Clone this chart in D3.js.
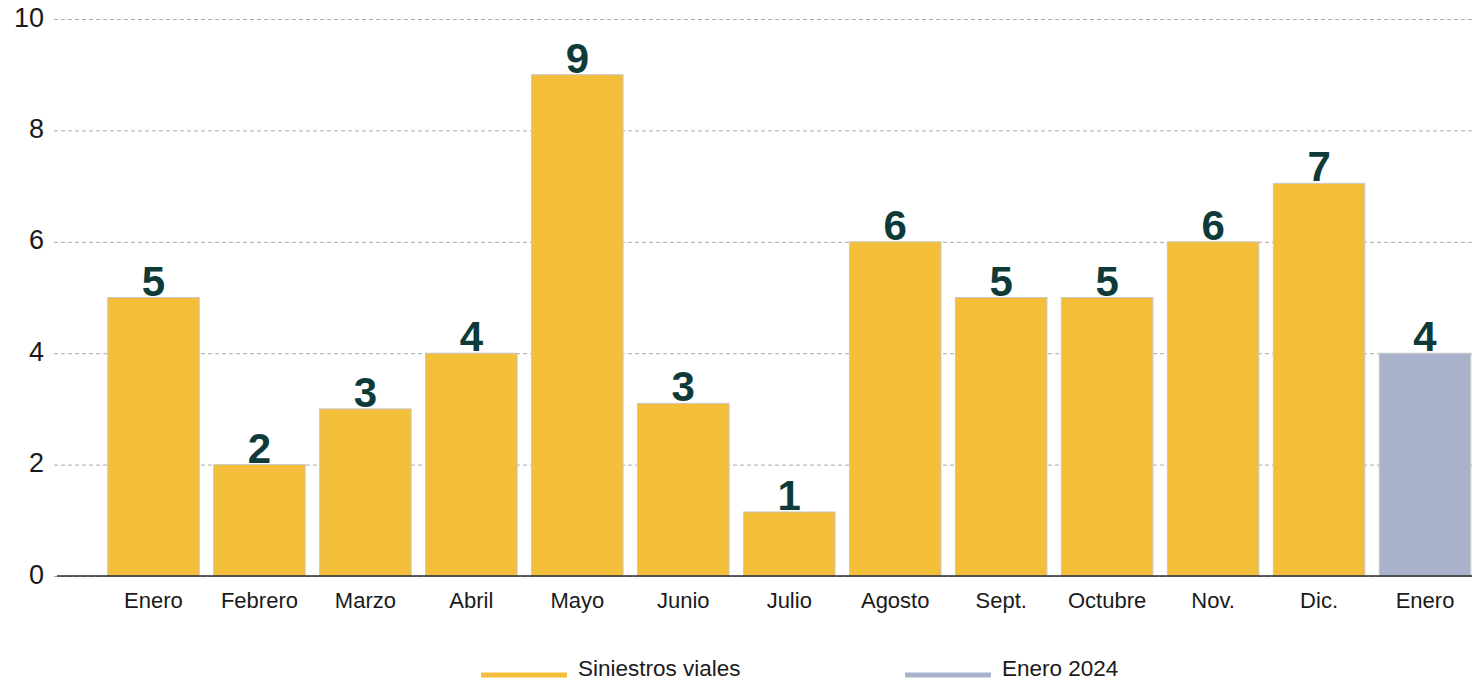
<!DOCTYPE html>
<html><head><meta charset="utf-8">
<script src="https://cdn.jsdelivr.net/npm/d3@7"></script>
<style>
html,body{margin:0;padding:0;background:#fff;}
svg{display:block;font-family:"Liberation Sans",Arial,sans-serif;}
</style></head>
<body>
<svg id="chart" width="1472" height="681"></svg>
<script>
const categories = ["Enero","Febrero","Marzo","Abril","Mayo","Junio","Julio","Agosto","Sept.","Octubre","Nov.","Dic.","Enero"];
const values = [5, 2, 3, 4, 9, 3.1, 1.15, 6, 5, 5, 6, 7.05, 4];
const labels = ["5","2","3","4","9","3","1","6","5","5","6","7","4"];
const series = ["Siniestros viales","Siniestros viales","Siniestros viales","Siniestros viales","Siniestros viales","Siniestros viales","Siniestros viales","Siniestros viales","Siniestros viales","Siniestros viales","Siniestros viales","Siniestros viales","Enero 2024"];
const legendNames = ["Siniestros viales","Enero 2024"];
const yTicks = [0, 2, 4, 6, 8, 10];

const colors = {"Siniestros viales":"#F3BE3A","Enero 2024":"#A9B1CB"};
const svg = d3.select("#chart");

const x = d3.scaleBand().domain(d3.range(categories.length)).range([100.5, 1478]).paddingInner(0.136).paddingOuter(0.068);
const y = d3.scaleLinear().domain([0, 10]).range([576, 19]);

// y axis labels
const yAxis = d3.axisLeft(y).tickValues(yTicks).tickSize(0).tickPadding(0).tickFormat(d3.format("d"));
const ga = svg.append("g").attr("transform","translate(44,0)").call(yAxis);
ga.select(".domain").remove();
ga.selectAll("text").attr("font-size","27px").attr("fill","#1a1a1a").attr("dy","0.26em").attr("font-family","Liberation Sans, Arial, sans-serif");

// gridlines
svg.append("g").selectAll("line").data(yTicks).join("line")
  .attr("x1",54).attr("x2",1472)
  .attr("y1",d=>y(d)+0.5).attr("y2",d=>y(d)+0.5)
  .attr("stroke","#aaaaaa").attr("stroke-width",1).attr("stroke-dasharray","4,3");

// bars
svg.append("g").selectAll("rect").data(values).join("rect")
  .attr("x",(d,i)=>x(i)).attr("width",x.bandwidth())
  .attr("y",d=>y(d)).attr("height",d=>y(0)-y(d))
  .attr("fill",(d,i)=>colors[series[i]])
  .attr("stroke","#c9c9c9").attr("stroke-width",1);

// zero line
svg.append("line").attr("x1",57).attr("x2",1472).attr("y1",y(0)).attr("y2",y(0))
  .attr("stroke","#2b2b2b").attr("stroke-width",1.5);

// value labels
svg.append("g").selectAll("text").data(values).join("text")
  .attr("x",(d,i)=>x(i)+x.bandwidth()/2).attr("y",d=>y(d)-2)
  .attr("text-anchor","middle").attr("font-size","42px").attr("font-weight","bold")
  .attr("fill","#0E3B3A").text((d,i)=>labels[i]);

// x axis labels
const xAxis = d3.axisBottom(x).tickSize(0).tickPadding(0).tickFormat(i=>categories[i]);
const gx = svg.append("g").attr("transform","translate(0,592)").call(xAxis);
gx.select(".domain").remove();
gx.selectAll("text").attr("font-size","22px").attr("fill","#1a1a1a").attr("dy","0.71em").attr("font-family","Liberation Sans, Arial, sans-serif");

// legend
const legX = [481, 905];
const lg = svg.append("g").selectAll("g").data(legendNames).join("g")
  .attr("transform",(d,i)=>`translate(${legX[i]},675)`);
lg.append("line").attr("x1",0).attr("x2",86).attr("y1",0).attr("y2",0)
  .attr("stroke",d=>colors[d]).attr("stroke-width",5);
lg.append("text").attr("x",97).attr("y",1).attr("font-size","22.5px").attr("fill","#1a1a1a").text(d=>d);
</script>
</body></html>
